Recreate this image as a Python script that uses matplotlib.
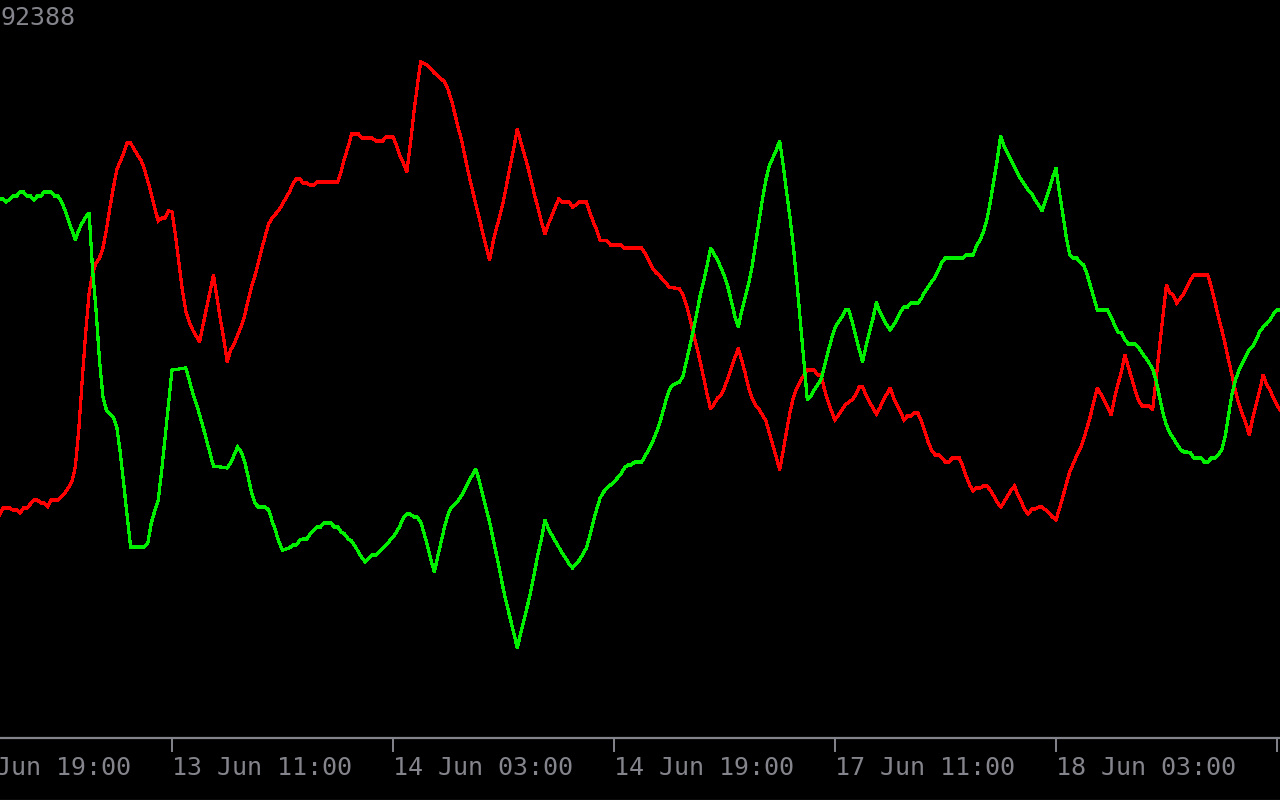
import matplotlib
matplotlib.use("Agg")
import matplotlib.pyplot as plt
from matplotlib.lines import Line2D

# M15 bar index (bar 50 = 13 Jun 11:00) and indicator level for each line
red_bar = [0, 1, 3, 4, 5, 6, 7, 8, 10, 11, 12, 13, 14, 15, 17, 19, 21, 22, 23, 24,
           25, 26, 27, 28, 29, 30, 31, 32, 33, 34, 36, 37, 38, 40, 41, 42, 43, 44, 45, 46,
           47, 48, 49, 50, 51, 52, 53, 54, 55, 56, 58, 59, 60, 61, 62, 63, 64, 65, 66, 67,
           68, 69, 70, 71, 72, 73, 74, 75, 76, 77, 78, 79, 81, 82, 84, 85, 86, 87, 88, 89,
           90, 91, 92, 98, 99, 100, 101, 102, 104, 105, 108, 109, 111, 112, 114, 115, 116, 117, 118, 119,
           120, 121, 122, 124, 126, 129, 130, 131, 132, 133, 134, 135, 136, 137, 138, 139, 140, 141, 142, 143,
           144, 145, 146, 147, 148, 149, 150, 151, 152, 153, 154, 155, 156, 157, 158, 159, 160, 161, 162, 163,
           165, 166, 167, 168, 170, 171, 172, 173, 174, 176, 177, 180, 181, 186, 187, 188, 189, 190, 191, 192,
           193, 194, 197, 198, 199, 200, 201, 202, 203, 204, 205, 206, 207, 208, 209, 210, 211, 212, 213, 214,
           215, 216, 217, 218, 219, 220, 221, 222, 223, 224, 225, 226, 227, 228, 229, 230, 231, 232, 233, 234,
           236, 237, 238, 239, 240, 241, 242, 243, 244, 245, 246, 247, 248, 249, 250, 251, 252, 253, 254, 255,
           256, 257, 258, 259, 260, 261, 262, 263, 264, 265, 266, 267, 268, 269, 270, 271, 272, 273, 274, 275,
           276, 278, 279, 280, 281, 282, 283, 284, 285, 286, 287, 288, 289, 290, 291, 292, 293, 294, 295, 296,
           297, 298, 299, 300, 301, 302, 303, 304, 305, 306, 307, 308, 309, 310, 311, 312, 313, 314, 315, 316,
           317, 318, 319, 320, 321, 322, 323, 324, 325, 326, 327, 328, 329, 330, 331, 333, 334, 335, 336, 337,
           338, 339, 340, 341, 343, 344, 345, 346, 350, 351, 352, 353, 354, 355, 356, 357, 358, 359, 360, 361,
           362, 363, 364, 365, 366, 367, 368, 369, 370, 371]
red_val = [285, 292, 292, 290, 290, 287, 292, 292, 300, 300, 297, 297, 293, 300, 300, 307, 318, 333, 370, 420,
           467, 507, 526, 537, 542, 552, 570, 592, 612, 630, 647, 657, 657, 645, 640, 631, 619, 606, 592, 579,
           582, 582, 589, 588, 565, 537, 510, 489, 478, 470, 458, 475, 492, 508, 525, 503, 481, 461, 438, 450,
           456, 465, 473, 484, 499, 513, 524, 537, 551, 564, 576, 582, 590, 596, 608, 616, 621, 621, 617, 617,
           615, 615, 618, 618, 629, 642, 653, 666, 666, 662, 662, 659, 659, 663, 663, 655, 644, 637, 628, 655,
           686, 713, 738, 735, 727, 718, 710, 699, 685, 671, 658, 641, 625, 610, 596, 582, 567, 553, 540, 558,
           572, 585, 599, 617, 635, 652, 671, 658, 646, 634, 620, 605, 592, 578, 566, 576, 584, 593, 601, 598,
           598, 593, 595, 598, 598, 588, 578, 570, 560, 559, 555, 555, 552, 552, 547, 540, 533, 528, 525, 521,
           517, 513, 511, 505, 495, 481, 467, 453, 438, 422, 405, 391, 396, 402, 405, 412, 422, 432, 442, 452,
           440, 427, 412, 402, 395, 391, 385, 379, 367, 355, 343, 330, 349, 369, 388, 403, 412, 419, 425, 430,
           430, 425, 425, 410, 399, 389, 380, 385, 390, 395, 398, 400, 405, 413, 413, 405, 398, 392, 386, 392,
           400, 406, 412, 402, 395, 388, 380, 384, 384, 387, 387, 379, 369, 358, 350, 345, 345, 342, 338, 338,
           342, 342, 334, 324, 315, 309, 312, 312, 314, 314, 310, 304, 298, 293, 298, 304, 310, 314, 305, 298,
           290, 286, 291, 291, 293, 293, 290, 287, 283, 280, 291, 303, 316, 328, 336, 344, 351, 360, 372, 384,
           399, 412, 406, 400, 393, 385, 402, 416, 429, 445, 433, 421, 409, 399, 394, 394, 390, 421, 452, 483,
           515, 507, 505, 497, 506, 513, 520, 525, 525, 513, 499, 484, 471, 456, 440, 425, 409, 396, 386, 377,
           365, 382, 396, 409, 425, 416, 410, 402, 395, 390]

green_bar = [0, 1, 2, 4, 5, 6, 7, 8, 9, 10, 11, 12, 13, 15, 16, 17, 18, 19, 20, 21,
             22, 23, 24, 25, 26, 27, 28, 29, 30, 31, 33, 34, 35, 36, 37, 38, 42, 43, 44, 45,
             46, 47, 48, 49, 50, 54, 55, 56, 57, 58, 59, 60, 61, 62, 66, 67, 68, 69, 70, 71,
             72, 73, 74, 75, 76, 77, 78, 79, 80, 81, 82, 84, 85, 86, 87, 88, 89, 90, 91, 92,
             93, 94, 96, 97, 98, 99, 100, 101, 102, 103, 104, 105, 106, 107, 108, 109, 110, 111, 112, 113,
             114, 115, 116, 117, 118, 119, 120, 121, 122, 123, 124, 125, 126, 127, 128, 129, 130, 131, 132, 133,
             134, 135, 136, 137, 138, 139, 140, 141, 142, 143, 144, 145, 146, 147, 148, 149, 150, 151, 152, 153,
             154, 155, 156, 157, 158, 159, 160, 161, 162, 163, 164, 165, 166, 167, 168, 169, 170, 171, 172, 173,
             174, 175, 176, 177, 178, 179, 180, 181, 182, 183, 184, 186, 187, 188, 189, 190, 191, 192, 193, 194,
             195, 197, 198, 199, 200, 201, 202, 203, 204, 205, 206, 207, 208, 209, 210, 211, 212, 213, 214, 215,
             216, 217, 218, 219, 220, 221, 222, 223, 224, 225, 226, 227, 228, 229, 230, 231, 232, 233, 234, 235,
             236, 237, 238, 239, 240, 241, 242, 243, 244, 245, 246, 247, 248, 249, 250, 251, 252, 253, 254, 255,
             256, 257, 258, 259, 260, 261, 262, 263, 264, 266, 267, 268, 269, 270, 271, 272, 273, 274, 279, 280,
             282, 283, 284, 285, 286, 287, 288, 289, 290, 291, 292, 293, 294, 295, 296, 297, 298, 299, 300, 301,
             302, 303, 304, 305, 306, 307, 308, 309, 310, 311, 312, 313, 314, 315, 316, 317, 318, 321, 322, 323,
             324, 325, 326, 327, 329, 330, 331, 332, 333, 334, 335, 336, 337, 338, 339, 340, 341, 342, 343, 344,
             345, 346, 348, 349, 350, 351, 352, 353, 354, 355, 356, 357, 358, 359, 360, 361, 362, 363, 364, 365,
             366, 367, 368, 369, 370, 371]
green_val = [601, 601, 598, 604, 604, 608, 608, 604, 604, 600, 604, 604, 608, 608, 604, 604, 598, 590, 580, 570,
             560, 570, 577, 583, 587, 530, 490, 440, 403, 390, 383, 373, 348, 316, 284, 253, 253, 257, 277, 289,
             300, 329, 363, 398, 430, 432, 420, 407, 397, 385, 373, 360, 347, 334, 332, 337, 345, 353, 348, 339,
             324, 308, 297, 293, 293, 293, 290, 279, 269, 258, 250, 252, 255, 255, 260, 261, 261, 266, 270, 273,
             273, 277, 277, 273, 273, 268, 266, 261, 259, 254, 248, 242, 238, 242, 245, 245, 248, 252, 255, 259,
             263, 268, 274, 282, 286, 286, 283, 283, 278, 267, 254, 240, 228, 244, 259, 274, 286, 293, 296, 300,
             305, 312, 319, 325, 331, 319, 305, 291, 278, 261, 245, 228, 210, 195, 181, 167, 152, 167, 181, 195,
             210, 228, 246, 261, 280, 271, 265, 259, 253, 247, 242, 236, 232, 236, 240, 246, 252, 264, 278, 291,
             302, 308, 312, 315, 318, 322, 326, 332, 335, 335, 338, 338, 344, 350, 357, 365, 374, 386, 399, 410,
             415, 418, 424, 439, 454, 470, 487, 505, 519, 535, 552, 546, 540, 532, 524, 513, 499, 484, 473, 489,
             503, 516, 533, 556, 578, 601, 620, 634, 642, 650, 659, 635, 608, 582, 552, 517, 478, 439, 400, 404,
             410, 415, 421, 434, 448, 461, 472, 478, 483, 490, 490, 478, 464, 451, 438, 454, 468, 481, 498, 488,
             481, 475, 470, 475, 481, 488, 493, 493, 497, 497, 501, 508, 513, 518, 523, 530, 538, 542, 542, 545,
             545, 554, 560, 568, 580, 598, 619, 640, 664, 654, 647, 640, 633, 626, 620, 615, 610, 606, 600, 595,
             589, 600, 610, 622, 632, 608, 586, 563, 545, 542, 542, 538, 535, 526, 514, 502, 490, 490, 483, 475,
             468, 467, 460, 456, 456, 452, 447, 442, 437, 431, 420, 403, 387, 375, 367, 362, 356, 351, 348, 348,
             347, 342, 342, 338, 338, 342, 342, 345, 350, 363, 385, 406, 420, 430, 437, 444, 450, 454, 460, 468,
             473, 476, 480, 486, 490, 490]

tick_bars = [-14, 50, 114, 178, 242, 306, 370]
tick_labels = ["12 Jun 19:00", "13 Jun 11:00", "14 Jun 03:00", "14 Jun 19:00",
               "17 Jun 11:00", "18 Jun 03:00", "18 Jun 19:00"]
header = "92388"

txt_col = "#84848c"
fig = plt.figure(figsize=(12.8, 8), dpi=100, facecolor="black")
ax = fig.add_axes([-60 / 1280, 62 / 800, 1340 / 1280, 738 / 800])
ax.set_facecolor("black")

ax.plot(red_bar, red_val, color="#ff0000", lw=1.6, antialiased=False, solid_joinstyle="miter")
ax.plot(green_bar, green_val, color="#00f000", lw=1.6, antialiased=False, solid_joinstyle="miter")

ax.set_xlim(-17.19, 370.9)
ax.set_ylim(62, 800)

for s in ["top", "left", "right"]:
    ax.spines[s].set_visible(False)
ax.spines["bottom"].set_color(txt_col)
ax.spines["bottom"].set_linewidth(1.6)

ax.set_yticks([])
ax.set_xticks(tick_bars)
ax.set_xticklabels(tick_labels, family="DejaVu Sans Mono", fontsize=18, color=txt_col)
ax.tick_params(axis="x", direction="out", length=10, width=1.4, color=txt_col, pad=3)
for lbl in ax.get_xticklabels():
    lbl.set_horizontalalignment("left")

fig.text(0.0005, 1 - 6 / 800, header, family="DejaVu Sans Mono", fontsize=18,
         color=txt_col, ha="left", va="top")
fig.add_artist(Line2D([0, 1], [0.5 / 800, 0.5 / 800], color="#3a3a3e", lw=1))

fig.savefig("out.png", dpi=100, facecolor="black")
